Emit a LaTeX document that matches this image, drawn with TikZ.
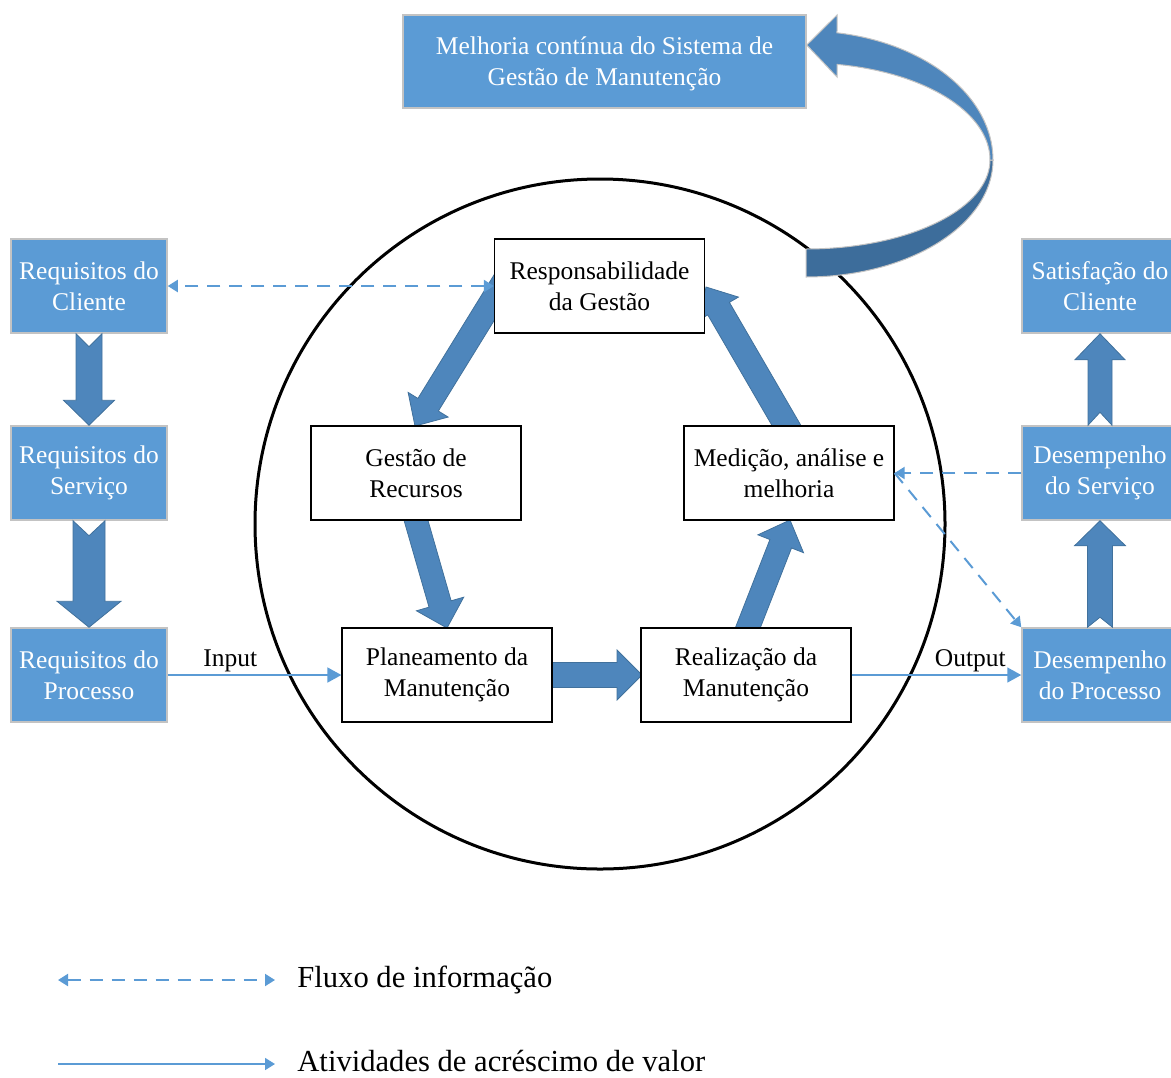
\documentclass[tikz,border=0pt]{standalone}
\usepackage{fontspec}
\setmainfont{Liberation Serif}
\usepackage{tikz}
\usetikzlibrary{calc}
\usetikzlibrary{arrows.meta}

\definecolor{boxblue}{HTML}{5B9BD5}
\definecolor{boxedge}{HTML}{C3C3C3}
\definecolor{arrblue}{HTML}{4E86BC}
\definecolor{arredge}{HTML}{41719C}
\definecolor{ribdark}{HTML}{3D6D9B}
\definecolor{linkblue}{HTML}{5B9BD5}

\newcommand{\boxfont}{\fontsize{12.75}{15.5}\selectfont}
\newcommand{\legfont}{\fontsize{15.3}{18}\selectfont}

% fat arrow: tail, tip, shaft half width, head half width, head length, notch depth
\newcommand{\blockarr}[6]{%
	\coordinate (hb) at ($(#2)!#5!(#1)$);
	\filldraw[blockarrow]
	($(#1)!#3!90:(#2)$) -- ($(hb)!#3!90:(#2)$) -- ($(hb)!#4!90:(#2)$) -- (#2) --
	($(hb)!#4!-90:(#2)$) -- ($(hb)!#3!-90:(#2)$) -- ($(#1)!#3!-90:(#2)$) --
	($(#1)!#6!(#2)$) -- cycle;
}

\tikzset{
	infotip/.tip={Triangle[length=5pt, width=6pt]},
	flowtip/.tip={Triangle[length=7pt, width=7.5pt]}
}

\begin{document}
\begin{tikzpicture}[
			x=0.5pt, y=-0.5pt,
			every node/.style={font=\boxfont},
			bluebox/.style={
					draw=boxedge,
					line width=0.75pt,
					fill=boxblue,
					text=white,
					align=center,
					inner sep=0pt,
					minimum width=78pt,
					minimum height=47pt
				},
			whitebox/.style={
					draw=black,
					line width=0.6pt,
					fill=white,
					align=center,
					inner sep=0pt,
					minimum width=105pt,
					minimum height=47pt
				},
			blockarrow/.style={fill=arrblue, draw=arredge, line width=0.4pt, line join=miter},
			ribbon/.style={draw=boxedge, line width=0.5pt},
			info/.style={draw=linkblue, line width=1pt, dash pattern=on 6.5pt off 4.5pt},
			flow/.style={draw=linkblue, line width=0.8pt}
		]
		\useasboundingbox (0,0) rectangle (1171,1077);

		% the cycle
		\draw[line width=1.5pt] (600,524) circle[radius=172.5pt];

		% boxes outside the cycle
		\node[bluebox, minimum width=201.5pt, minimum height=46.5pt] (melhoria) at (604.5,61.5) {};
		\node[text=white, align=center, inner sep=0pt] (melhoriatxt) at (604.5,64)
		{Melhoria contínua do Sistema de\\Gestão de Manutenção};
		\node[bluebox] (reqcliente) at (89,286) {Requisitos do\\Cliente};
		\node[bluebox] (reqservico) at (89,473) {Requisitos do\\Serviço};
		\node[bluebox] (reqprocesso) at (89,675) {Requisitos do\\Processo};
		\node[bluebox] (satisfacao) at (1100,286) {Satisfação do\\Cliente};
		\node[bluebox] (desservico) at (1100,473) {Desempenho\\do Serviço};
		\node[bluebox] (desprocesso) at (1100,675) {Desempenho\\do Processo};

		% block arrows, drawn under the white boxes
		\coordinate (b1tail) at (505,280);
		\coordinate (b2tail) at (413,510);
		\coordinate (b3tail) at (545,675);
		\coordinate (b4tail) at (745,635);
		\coordinate (b5tail) at (792,435);

		\blockarr{b1tail}{415,426}{6pt}{11.75pt}{12.5pt}{0pt}
		\blockarr{b2tail}{447,628}{5.75pt}{12.3pt}{12.5pt}{0pt}
		\blockarr{b3tail}{642,675}{6.25pt}{12.5pt}{12.5pt}{0pt}
		\blockarr{b4tail}{790,520}{5.8pt}{12.25pt}{12.75pt}{0pt}
		\blockarr{b5tail}{706,287}{6.25pt}{11.5pt}{12.5pt}{0pt}

		\blockarr{reqcliente.south}{reqservico.north}{6.5pt}{12.75pt}{12.5pt}{6.5pt}
		\blockarr{reqservico.south}{reqprocesso.north}{8pt}{16pt}{13pt}{7.5pt}
		\blockarr{desprocesso.north}{desservico.south}{6.25pt}{12.75pt}{12.5pt}{5pt}
		\blockarr{desservico.north}{satisfacao.south}{6pt}{12.5pt}{13pt}{6.5pt}

		% boxes inside the cycle
		\node[whitebox] (resp) at (599.5,286) {Responsabilidade\\da Gestão};
		\node[whitebox] (gestrec) at (416,473) {Gestão de\\Recursos};
		\node[whitebox] (medicao) at (789,473) {Medição, análise e\\melhoria};
		\node[whitebox] (planeam) at (447,675) {Planeamento da\\Manutenção};
		\node[whitebox] (realiz) at (746,675) {Realização da\\Manutenção};

		% curved arrow back to the improvement box
		\filldraw[ribbon, fill=ribdark]
		plot[domain=0:-90, samples=40, variable=\t] ({806+187*cos(\t)},{160-117*sin(\t)}) --
		plot[domain=-90:0, samples=40, variable=\t] ({806+184*cos(\t)},{160-89*sin(\t)}) -- cycle;
		\filldraw[ribbon, fill=arrblue]
		(melhoria.east |- 0,45) -- (837,15) -- (837,31) --
		plot[domain=80.5:0, samples=40, variable=\t] ({806+187*cos(\t)},{160-129*sin(\t)}) --
		plot[domain=0:80.3, samples=40, variable=\t] ({806+184*cos(\t)},{160-97*sin(\t)}) --
		(837,77) -- cycle;

		% information flow
		\draw[info, infotip-infotip] (resp.west) -- (reqcliente.east);
		\draw[info, -infotip] (desservico.west) -- (medicao.east);
		\draw[info, -infotip] (medicao.east) -- (desprocesso.north west);

		% value adding activities
		\draw[flow, -flowtip] (reqprocesso.east) --
		node[pos=0.36, above, inner sep=1pt] (lblin) {Input} (planeam.west);
		\draw[flow, -flowtip] (realiz.east) --
		node[pos=0.70, above, inner sep=1pt] (lblout) {Output} (desprocesso.west);

		% legend
		\coordinate (legfa) at (58,980);
		\coordinate (legfb) at (275,980);
		\coordinate (legva) at (58,1064);
		\coordinate (legvb) at (275,1064);
		\draw[info, infotip-infotip] (legfa) -- (legfb);
		\draw[flow, -infotip] (legva) -- (legvb);
		\node[anchor=west, font=\legfont, inner sep=0pt] (legflux) at (297,980) {Fluxo de informação};
		\node[anchor=west, font=\legfont, inner sep=0pt] (legativ) at (297,1061) {Atividades de acréscimo de valor};
	\end{tikzpicture}
\end{document}
